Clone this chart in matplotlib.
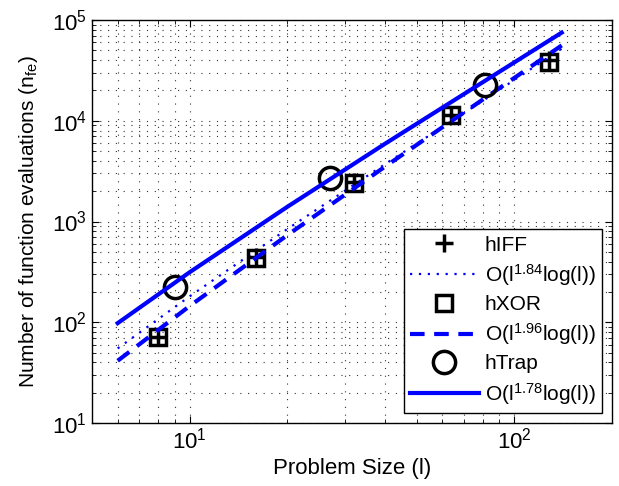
import matplotlib
matplotlib.use("Agg")
import matplotlib.pyplot as plt

plt.rcParams["font.family"] = ["Liberation Sans", "DejaVu Sans"]
plt.rcParams["mathtext.fontset"] = "custom"
plt.rcParams["mathtext.rm"] = "Liberation Sans"
plt.rcParams["mathtext.it"] = "Liberation Sans"

# measured points
hiff_x = [8, 16, 32, 64, 128]
hiff_y = [72, 440, 2450, 11300, 40000]
hxor_x = [8, 16, 32, 64, 128]
hxor_y = [71, 434, 2410, 11400, 38500]
htrap_x = [9, 27, 81]
htrap_y = [224, 2700, 22600]

# fitted curves
fit_x = [6, 10, 20, 40, 80, 140]
fit_hiff_y = [55, 181, 843, 3716, 15790, 52000]
fit_hxor_y = [41.5, 145, 733, 3513, 16250, 56000]
fit_htrap_y = [98, 314, 1401, 5923, 24166, 75000]

fig = plt.figure(figsize=(6.19, 4.86), dpi=100)
ax = fig.add_axes([0.1486, 0.1296, 0.8401, 0.8292])

ax.plot(hiff_x, hiff_y, "k+", ms=13, mew=2.5, ls="none", label="hIFF")
ax.plot(fit_x, fit_hiff_y, color="b", ls=(0, (1, 3)), lw=1.6, label=r"O(l$^{1.84}$log(l))")
ax.plot(hxor_x, hxor_y, "ks", ms=11, mew=2.5, mfc="none", ls="none", label="hXOR")
ax.plot(fit_x, fit_hxor_y, color="b", ls="--", lw=3, dashes=(3.5, 2.3), label=r"O(l$^{1.96}$log(l))")
ax.plot(htrap_x, htrap_y, "ko", ms=16, mew=2.5, mfc="none", ls="none", label="hTrap")
ax.plot(fit_x, fit_htrap_y, color="b", ls="-", lw=3, label=r"O(l$^{1.78}$log(l))")

ax.set_xscale("log")
ax.set_yscale("log")
ax.set_xlim(5, 200)
ax.set_ylim(10, 1e5)

ax.grid(True, which="both", ls=(0, (1, 6)), color="0.2", lw=0.8)
ax.tick_params(which="both", direction="in", top=True, right=True, labelsize=16)
ax.tick_params(which="major", length=5)
ax.tick_params(which="minor", length=3)
for s in ax.spines.values():
    s.set_linewidth(1.0)

ax.set_xlabel("Problem Size (l)", fontsize=16, labelpad=3)
ax.set_ylabel(r"Number of function evaluations (n$_{\mathrm{fe}}$)", fontsize=15, labelpad=9)

leg = ax.legend(loc="lower right", bbox_to_anchor=(0.981, 0.025), borderaxespad=0,
                fancybox=False, edgecolor="k", framealpha=1, fontsize=15,
                handlelength=3.3, handletextpad=0.3, labelspacing=0.35, borderpad=0.3)
leg.get_frame().set_linewidth(1.0)

fig.savefig("out.png", dpi=100)
